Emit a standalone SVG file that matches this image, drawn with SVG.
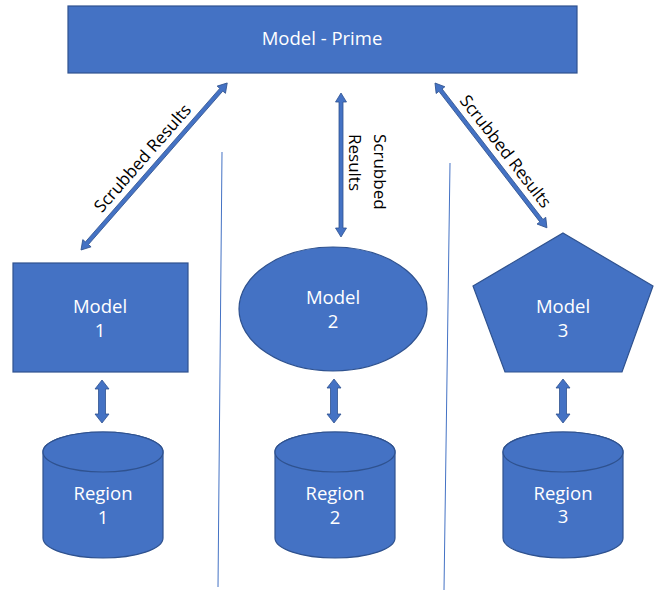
<svg xmlns="http://www.w3.org/2000/svg" width="654" height="590" viewBox="0 0 654 590">
<style>
.shape{fill:#4472C4;stroke:#2F528F;stroke-width:1.2}
.arrow{fill:#4472C4;stroke:#2F528F;stroke-width:0.8}
.sep{stroke:#4472C4;stroke-width:1;fill:none}
.lbl{font-family:"Open Sans","Liberation Sans",sans-serif;font-size:18.5px;fill:#FFFFFF;text-anchor:middle}
.conn{font-family:"Open Sans","Liberation Sans",sans-serif;font-size:17px;fill:#000000}
</style>
<rect width="654" height="590" fill="#FFFFFF"/>
<g id="separators">
<line class="sep" x1="222" y1="152" x2="218" y2="587"/>
<line class="sep" x1="450" y1="163" x2="444" y2="590"/>
</g>
<g id="prime">
<rect class="shape" x="68" y="6" width="509" height="67"/>
<text class="lbl" x="322" y="45">Model - Prime</text>
</g>
<g id="model1">
<rect class="shape" x="13" y="263" width="175" height="109"/>
<text class="lbl" x="100" y="313">Model</text>
<text class="lbl" x="100" y="337">1</text>
</g>
<g id="model2">
<ellipse class="shape" cx="333" cy="309" rx="94" ry="62"/>
<text class="lbl" x="333" y="304">Model</text>
<text class="lbl" x="333" y="328">2</text>
</g>
<g id="model3">
<polygon class="shape" points="563,233 653,286 622,372 505,372 473,286"/>
<text class="lbl" x="563" y="313">Model</text>
<text class="lbl" x="563" y="337">3</text>
</g>
<g id="region1">
<path class="shape" d="M43,452 A60,20 0 0 1 163,452 V538 A60,20 0 0 1 43,538 Z"/>
<ellipse class="shape" cx="103" cy="452" rx="60" ry="20"/>
<text class="lbl" x="103" y="500">Region</text>
<text class="lbl" x="103" y="524">1</text>
</g>
<g id="region2">
<path class="shape" d="M275,452 A60,20 0 0 1 395,452 V538 A60,20 0 0 1 275,538 Z"/>
<ellipse class="shape" cx="335" cy="452" rx="60" ry="20"/>
<text class="lbl" x="335" y="500">Region</text>
<text class="lbl" x="335" y="524">2</text>
</g>
<g id="region3">
<path class="shape" d="M503,452 A60,20 0 0 1 623,452 V538 A60,20 0 0 1 503,538 Z"/>
<ellipse class="shape" cx="563" cy="452" rx="60" ry="20"/>
<text class="lbl" x="563" y="500">Region</text>
<text class="lbl" x="563" y="523">3</text>
</g>
<g id="connectors">
<polygon class="arrow" transform="translate(81,250) rotate(-48.8)" points="0,0 9,-5.5 9,-2 213,-2 213,-5.5 222,0 213,5.5 213,2 9,2 9,5.5"/>
<polygon class="arrow" transform="translate(341,93) rotate(90)" points="0,0 9,-5.5 9,-2 135,-2 135,-5.5 144,0 135,5.5 135,2 9,2 9,5.5"/>
<polygon class="arrow" transform="translate(435,83) rotate(52.3)" points="0,0 9,-5.5 9,-2 174,-2 174,-5.5 183,0 174,5.5 174,2 9,2 9,5.5"/>
<polygon class="arrow" transform="translate(102,380) rotate(90)" points="0,0 9,-7 9,-3.5 34,-3.5 34,-7 43,0 34,7 34,3.5 9,3.5 9,7"/>
<polygon class="arrow" transform="translate(334,379) rotate(90)" points="0,0 9,-7 9,-3.5 35,-3.5 35,-7 44,0 35,7 35,3.5 9,3.5 9,7"/>
<polygon class="arrow" transform="translate(563,379) rotate(90)" points="0,0 9,-7 9,-3.5 35,-3.5 35,-7 44,0 35,7 35,3.5 9,3.5 9,7"/>
<text class="conn" text-anchor="middle" transform="translate(147,162) rotate(-48.8)">Scrubbed Results</text>
<text class="conn" text-anchor="middle" transform="translate(501,155) rotate(52.3)">Scrubbed Results</text>
<text class="conn" transform="translate(374,134) rotate(90)">Scrubbed</text>
<text class="conn" transform="translate(349,134) rotate(90)">Results</text>
</g>
</svg>
